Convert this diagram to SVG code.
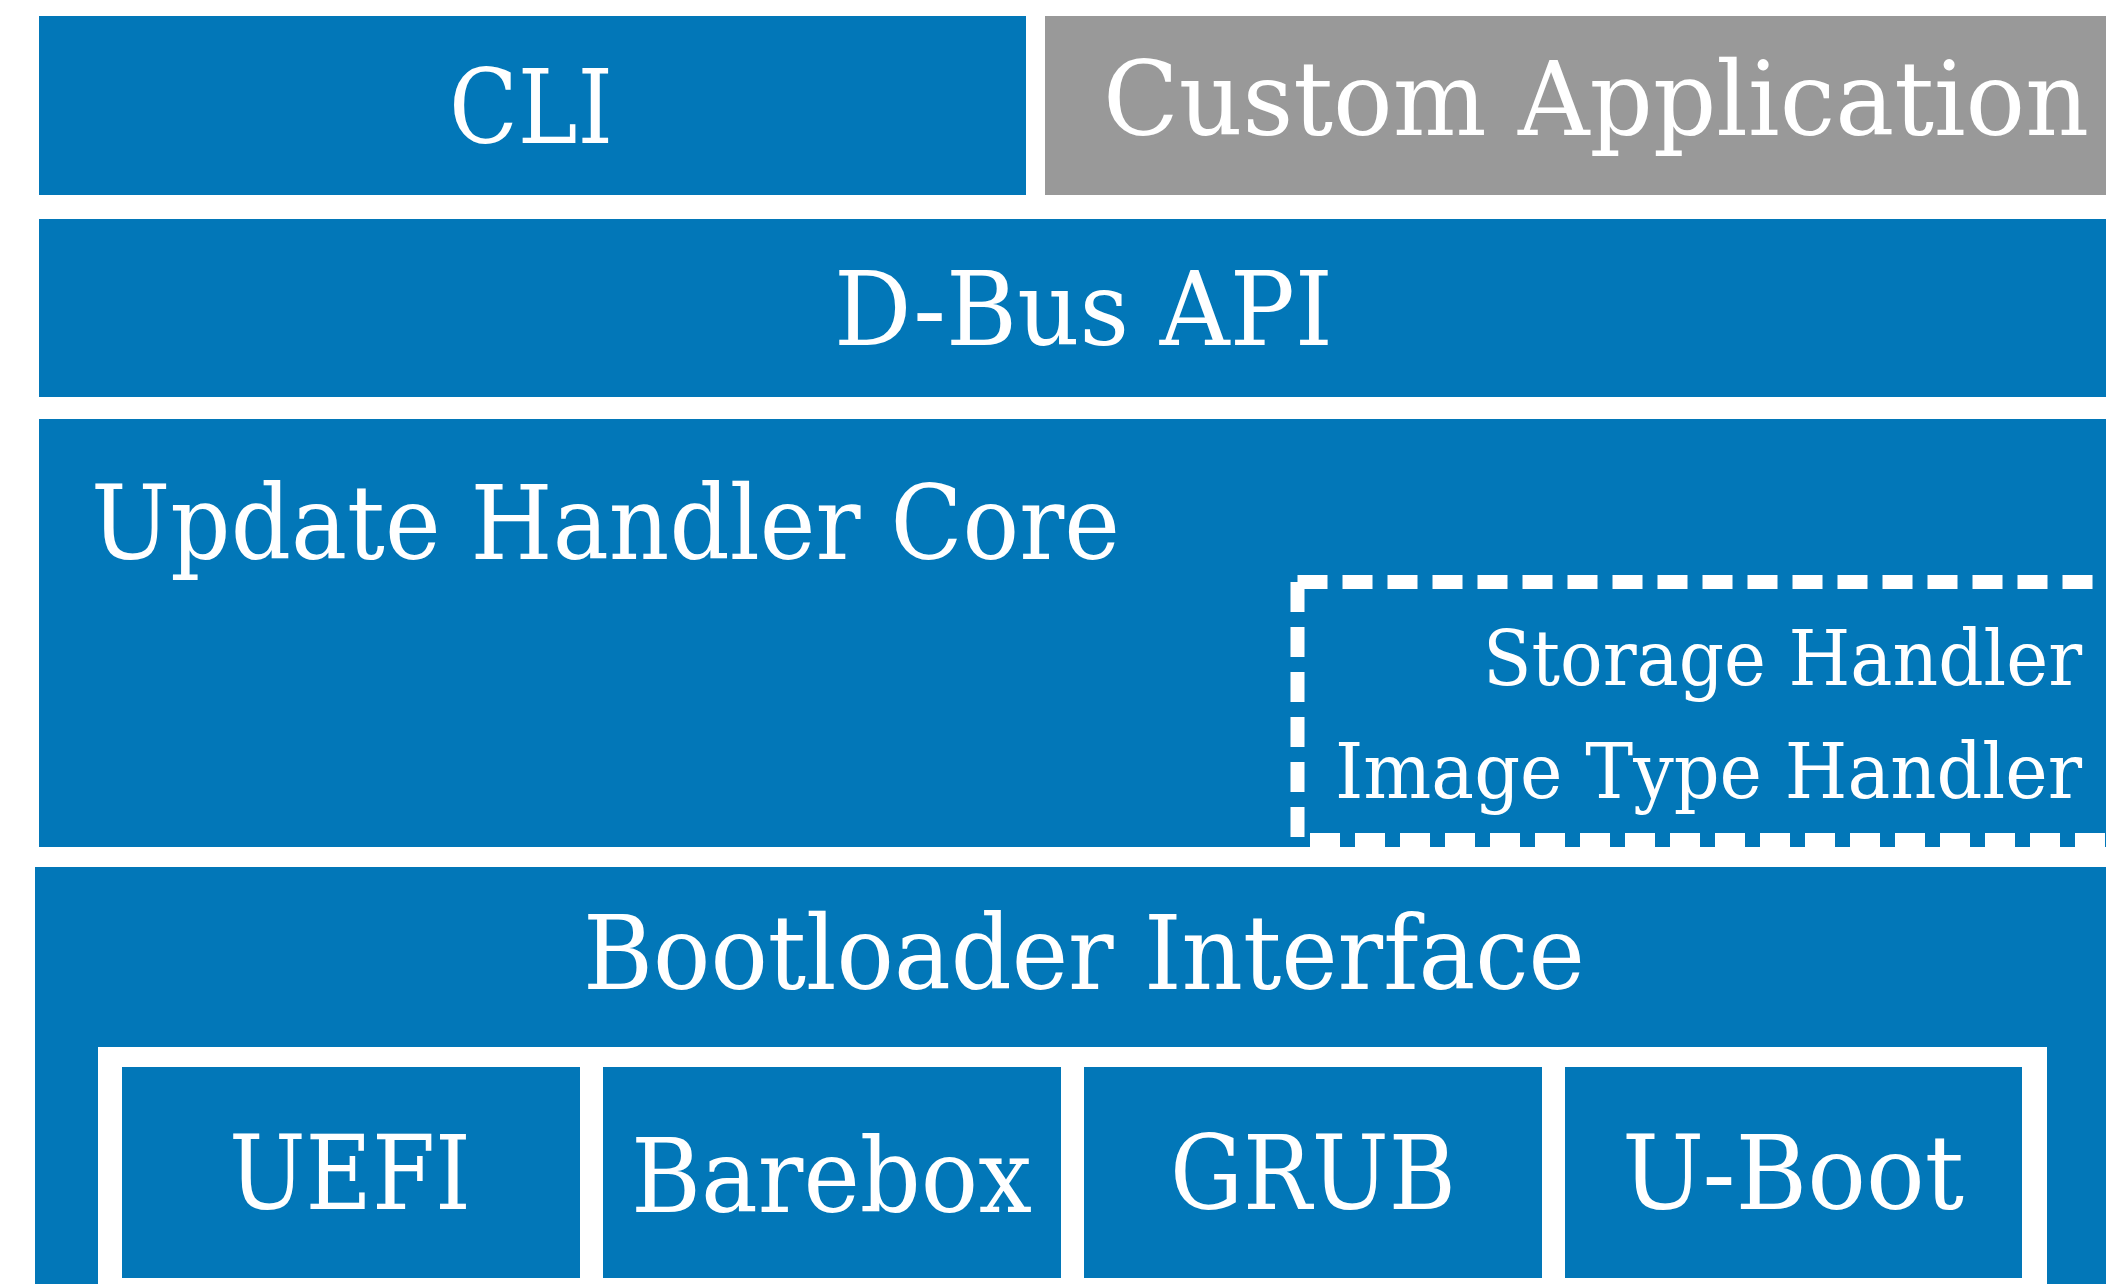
<svg xmlns="http://www.w3.org/2000/svg" width="2106" height="1284" viewBox="0 0 2106 1284">
<style>
.blue{fill:#0277b8}
.gray{fill:#999999}
.t{font-family:"DejaVu Serif","Liberation Serif",serif;fill:#ffffff;font-size:102px}
.s{font-size:76px}
.dash{stroke:#ffffff;stroke-width:14;stroke-dasharray:30 15;fill:none}
</style>
<rect width="2106" height="1284" fill="#ffffff"/>
<g id="cli">
<rect class="blue" x="39" y="16" width="987" height="179"/>
<text class="t" x="449" y="143" textLength="164" lengthAdjust="spacingAndGlyphs">CLI</text>
</g>
<g id="custom-application">
<rect class="gray" x="1045" y="16" width="1061" height="179"/>
<text class="t" x="1103" y="135" textLength="986" lengthAdjust="spacingAndGlyphs">Custom Application</text>
</g>
<g id="dbus-api">
<rect class="blue" x="39" y="219" width="2067" height="178"/>
<text class="t" x="834" y="345" textLength="499" lengthAdjust="spacingAndGlyphs">D-Bus API</text>
</g>
<g id="update-handler-core">
<rect class="blue" x="39" y="419" width="2067" height="428"/>
<text class="t" x="91" y="559" textLength="1029" lengthAdjust="spacingAndGlyphs">Update Handler Core</text>
</g>
<g id="handlers">
<path class="dash" d="M1297.5,582 H2106"/>
<path class="dash" d="M1297.5,582 V840"/>
<path class="dash" d="M1310,840 H2106"/>
<text class="t s" x="1483" y="685" textLength="599" lengthAdjust="spacingAndGlyphs">Storage Handler</text>
<text class="t s" x="1335" y="798" textLength="747" lengthAdjust="spacingAndGlyphs">Image Type Handler</text>
</g>
<g id="bootloader-interface">
<rect class="blue" x="35" y="867" width="2071" height="417"/>
<text class="t" x="583" y="989" textLength="1002" lengthAdjust="spacingAndGlyphs">Bootloader Interface</text>
<rect x="98" y="1047" width="1949" height="237" fill="#ffffff"/>
</g>
<g id="uefi">
<rect class="blue" x="122" y="1067" width="458" height="211"/>
<text class="t" x="229" y="1209" textLength="242" lengthAdjust="spacingAndGlyphs">UEFI</text>
</g>
<g id="barebox">
<rect class="blue" x="603" y="1067" width="458" height="211"/>
<text class="t" x="631" y="1212" textLength="401" lengthAdjust="spacingAndGlyphs">Barebox</text>
</g>
<g id="grub">
<rect class="blue" x="1084" y="1067" width="458" height="211"/>
<text class="t" x="1170" y="1209" textLength="286" lengthAdjust="spacingAndGlyphs">GRUB</text>
</g>
<g id="uboot">
<rect class="blue" x="1565" y="1067" width="457" height="211"/>
<text class="t" x="1622" y="1209" textLength="342" lengthAdjust="spacingAndGlyphs">U-Boot</text>
</g>
<g id="connectors"></g>
</svg>
